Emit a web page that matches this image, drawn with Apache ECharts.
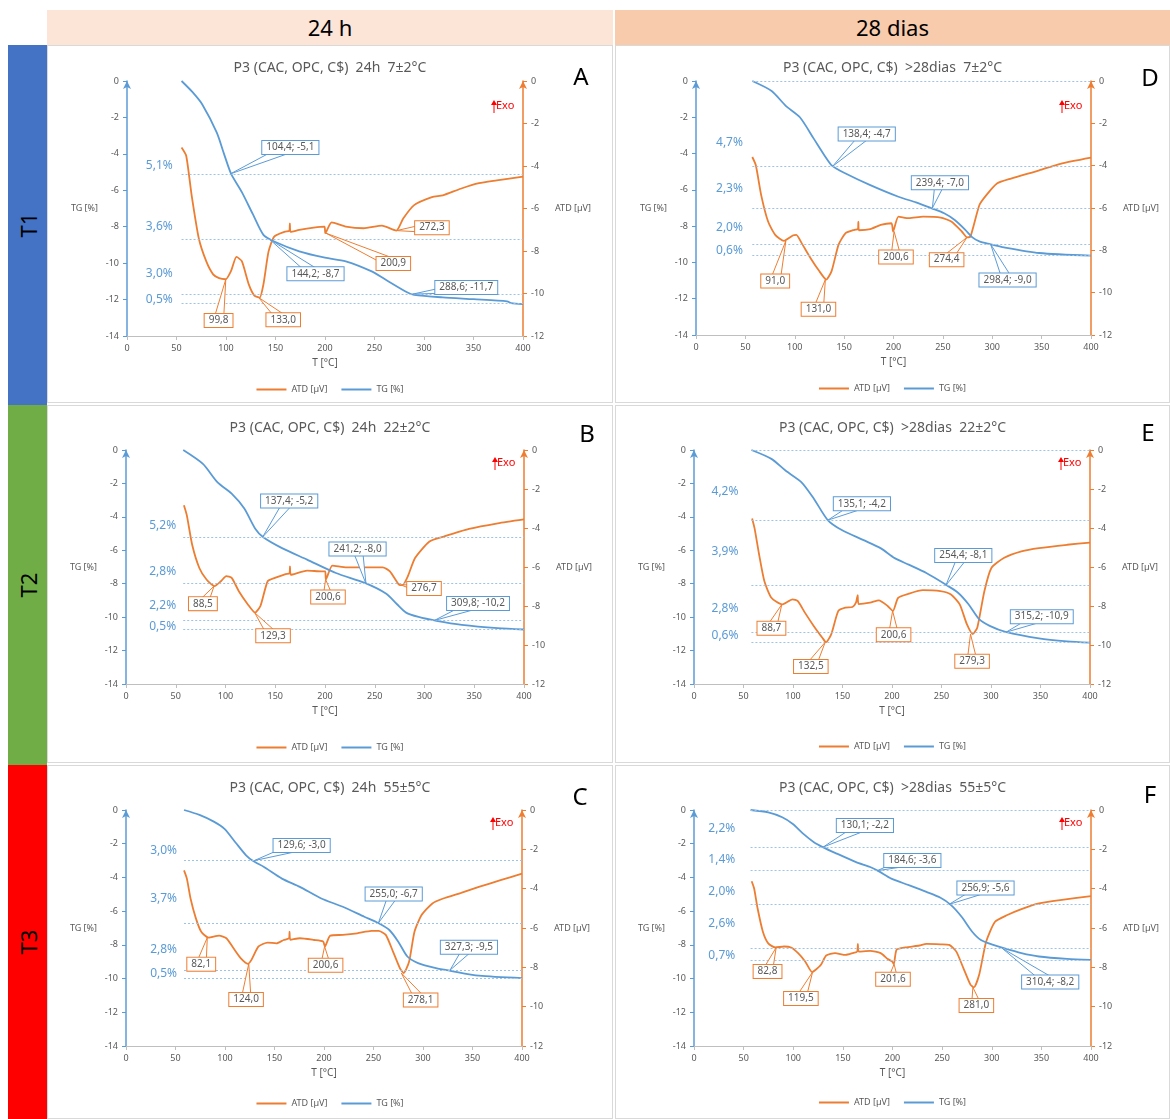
<!DOCTYPE html>
<html>
<head>
<meta charset="utf-8">
<script src="https://cdn.jsdelivr.net/npm/echarts@6/dist/echarts.min.js"></script>
<style>
  body { margin: 0; background: #fff; font-family: 'Noto Sans', sans-serif; }
  .hd { position: absolute; top: 10px; height: 35px; line-height: 35px; text-align: center; font-size: 22px; color: #000; }
  .side { position: absolute; left: 8px; width: 39px; }
  .side span { position: absolute; left: 50%; top: 50%; transform: translate(-50%, -50%) rotate(-90deg); font-size: 22px; color: #000; }
  .pn { position: absolute; box-sizing: border-box; border: 1px solid #d9d9d9; }
</style>
</head>
<body>
<div class="hd" style="left:47px;width:566px;background:#fce4d6;">24 h</div>
<div class="hd" style="left:615px;width:555px;background:#f8cbad;">28 dias</div>
<div class="side" style="top:45px;height:360px;background:#4472c4;"><span>T1</span></div>
<div class="side" style="top:405px;height:360px;background:#70ad47;"><span>T2</span></div>
<div class="side" style="top:765px;height:354px;background:#ff0000;"><span>T3</span></div>

<script>
// ---- A: 24h 7±2°C ----
const tgA = [[55.1,0],[66,-0.6],[76.2,-1.3],[90.7,-2.84],[98,-4.0],[105.2,-5.1],[116,-6.1],[127,-7.3],[137.8,-8.45],[148.7,-8.81],[174,-9.35],[200,-9.7],[221,-9.9],[246.6,-10.44],[261,-10.9],[282.9,-11.6],[290,-11.74],[319,-11.88],[350,-11.98],[384,-12.1],[388,-12.2],[400,-12.25]];
const atdA = [[55.1,-3.13],[59.8,-3.52],[65.3,-5.38],[72.5,-7.4],[80,-8.48],[87,-9.1],[93,-9.28],[99.7,-9.33],[105,-8.95],[110.6,-8.28],[116,-8.48],[123,-9.57],[128.7,-10.1],[134,-10.19],[137.8,-9.57],[143,-8.02],[148.7,-7.32],[159.6,-7.09],[164,-7.05],[164.5,-6.7],[165.3,-7.1],[174,-7.01],[188.6,-6.9],[199.5,-6.85],[200.3,-7.16],[206.7,-6.65],[221,-6.85],[239,-6.93],[257.5,-6.81],[272,-7.04],[279,-6.47],[290,-5.84],[308,-5.46],[319,-5.38],[337,-5.07],[355.5,-4.81],[373.5,-4.68],[400,-4.5]];
const tgPeaksA = [[104.4,-5.1],[144.2,-8.7],[288.6,-11.7]];
const atdPeaksA = [[99.8,-9.33],[133.0,-10.19],[200.9,-7.16],[272.3,-7.04]];
const levelsA = [-5.1,-8.7,-11.7,-12.2];
const pctA = ['5,1%','3,6%','3,0%','0,5%'];

// ---- B: 24h 22±2°C ----
const tgB = [[57.5,0],[77.3,-0.83],[91.8,-1.92],[106.2,-2.61],[118.9,-3.5],[129.7,-4.69],[138,-5.22],[156.8,-5.87],[182,-6.56],[211,-7.36],[240,-7.95],[261.6,-8.6],[272.4,-9.23],[281.5,-9.73],[294,-9.99],[312,-10.22],[337.5,-10.46],[373.6,-10.66],[400,-10.74]];
const atdB = [[58.2,-2.83],[61.1,-3.34],[66.5,-4.86],[73.7,-6.05],[80.9,-6.64],[88.9,-6.98],[95.4,-6.73],[100.8,-6.47],[106.2,-6.56],[113.4,-7.24],[122.5,-7.92],[129.7,-8.34],[135.1,-8.0],[142.4,-6.73],[149.6,-6.56],[160.4,-6.36],[164.3,-6.33],[164.8,-5.97],[165.6,-6.4],[182,-6.19],[196.6,-6.22],[200.2,-6.22],[200.9,-6.64],[207.4,-5.93],[221.8,-6.02],[240,-6.02],[258,-6.02],[265.2,-6.22],[274.3,-6.9],[277.9,-6.93],[283.3,-6.47],[290.5,-5.54],[305,-4.69],[319.4,-4.44],[344.7,-4.05],[373.6,-3.76],[400,-3.56]];
const tgPeaksB = [[137.4,-5.2],[241.2,-8.0],[309.8,-10.2]];
const atdPeaksB = [[88.5,-6.98],[129.3,-8.34],[200.6,-6.64],[276.7,-6.93]];
const levelsB = [-5.2,-8.0,-10.2,-10.7];
const pctB = ['5,2%','2,8%','2,2%','0,5%'];

// ---- C: 24h 55±5°C ----
const tgC = [[58.6,0],[74.2,-0.29],[88.7,-0.69],[99.5,-1.12],[110.4,-1.91],[121.3,-2.69],[128.5,-3.03],[139.4,-3.38],[157.5,-4.07],[175.6,-4.56],[197.3,-5.25],[219,-5.74],[240.7,-6.33],[255.2,-6.72],[266,-7.12],[275,-7.81],[284.2,-8.69],[295,-9.08],[313.1,-9.38],[327.6,-9.54],[356.6,-9.83],[400,-9.97]];
const atdC = [[58.6,-3.07],[61.5,-3.49],[65.2,-4.5],[70.6,-5.51],[76,-6.19],[83.3,-6.49],[94.1,-6.39],[101.4,-6.52],[108.6,-7.03],[115.8,-7.53],[123,-7.82],[126.7,-7.62],[133.9,-6.94],[143,-6.74],[152,-6.78],[159.3,-6.61],[164.7,-6.52],[165.2,-6.19],[166,-6.6],[175.6,-6.52],[190,-6.61],[199.1,-6.69],[200.9,-6.94],[206.3,-6.39],[219,-6.35],[233.5,-6.27],[248,-6.15],[255.2,-6.15],[262.4,-6.35],[269.7,-7.2],[276.9,-8.07],[280.5,-8.29],[286,-7.7],[291.4,-6.19],[298.6,-5.34],[309.5,-4.75],[320.4,-4.5],[338.5,-4.21],[356.4,-3.91],[378.3,-3.57],[400,-3.24]];
const tgPeaksC = [[129.6,-3.0],[255.0,-6.7],[327.3,-9.5]];
const atdPeaksC = [[82.1,-6.49],[124.0,-7.82],[200.6,-6.94],[278.1,-8.29]];
const levelsC = [-3.0,-6.7,-9.5,-10.0];
const pctC = ['3,0%','3,7%','2,8%','0,5%'];

// ---- D: >28dias 7±2°C ----
const tgD = [[57,0],[76.6,-0.55],[90.9,-1.37],[105.2,-2.0],[119.4,-3.19],[130.1,-4.1],[138,-4.68],[151.5,-5.1],[176.5,-5.74],[205,-6.38],[222.8,-6.69],[238.8,-7.02],[251.3,-7.29],[262,-7.66],[272.7,-8.2],[279.9,-8.62],[287,-8.84],[297.7,-8.99],[312,-9.17],[347.6,-9.48],[400,-9.63]];
const atdD = [[57,-3.59],[60.6,-3.98],[66,-5.39],[73,-6.64],[80.2,-7.27],[89.1,-7.55],[98,-7.3],[101.6,-7.27],[107,-7.66],[115.9,-8.36],[124.8,-8.98],[131.9,-9.38],[137.3,-8.98],[144.4,-7.73],[151.5,-7.19],[160.4,-7.03],[164,-7.0],[164.4,-6.64],[165,-7.05],[176.5,-7.0],[187,-6.8],[197.9,-6.72],[199.6,-7.11],[205,-6.41],[215.7,-6.48],[229.9,-6.41],[247.8,-6.45],[258.5,-6.64],[269.2,-7.11],[274.5,-7.39],[278,-7.34],[287,-5.86],[294,-5.39],[304.8,-4.84],[319,-4.61],[347.6,-4.22],[369,-3.91],[400,-3.62]];
const tgPeaksD = [[138.4,-4.7],[239.4,-7.0],[298.4,-9.0]];
const atdPeaksD = [[91.0,-7.55],[131.0,-9.38],[200.6,-7.11],[274.4,-7.39]];
const levelsD = [0,-4.7,-7.0,-9.0,-9.6];
const pctD = ['4,7%','2,3%','2,0%','0,6%'];

// ---- E: >28dias 22±2°C ----
const tgE = [[58,0],[78.2,-0.53],[92.4,-1.23],[108.4,-1.92],[120.9,-2.9],[135.1,-4.19],[149.3,-4.79],[170.7,-5.38],[188.4,-5.87],[202.7,-6.47],[216.9,-6.86],[234.7,-7.36],[254.2,-8.05],[266.7,-8.54],[277.3,-9.23],[288,-10.12],[298.7,-10.52],[314.7,-10.88],[348.4,-11.27],[376.9,-11.45],[400,-11.53]];
const atdE = [[58.7,-3.51],[61.2,-4.02],[65.8,-5.37],[71.1,-6.73],[78.2,-7.58],[88.9,-7.92],[99.6,-7.66],[104.9,-7.75],[112,-8.34],[120.9,-9.02],[129.8,-9.64],[133.3,-9.86],[138.7,-9.44],[145.8,-8.25],[152.9,-8.08],[160,-8.05],[163.6,-7.83],[165.3,-7.44],[166.3,-7.9],[177.8,-7.83],[186.7,-7.71],[195.6,-8.0],[200.9,-8.25],[206.2,-7.58],[216.9,-7.37],[231.1,-7.19],[248.9,-7.24],[259.6,-7.41],[268.4,-7.92],[275.6,-8.93],[281.6,-9.44],[286.2,-9.1],[293.3,-7.24],[300.4,-6.05],[312.9,-5.54],[330.7,-5.2],[348.4,-5.03],[376.9,-4.86],[400,-4.75]];
const tgPeaksE = [[135.1,-4.2],[254.4,-8.1],[315.2,-10.9]];
const atdPeaksE = [[88.7,-7.92],[132.5,-9.86],[200.6,-8.25],[279.3,-9.44]];
const levelsE = [0,-4.2,-8.1,-10.9,-11.5];
const pctE = ['4,2%','3,9%','2,8%','0,6%'];

// ---- F: >28dias 55±5°C ----
const tgF = [[57,0],[74.8,-0.14],[88.9,-0.43],[99.6,-0.83],[110.2,-1.42],[120.8,-1.91],[129.7,-2.2],[142.1,-2.54],[163.3,-3.09],[177.5,-3.38],[186.4,-3.64],[198.8,-4.07],[216.5,-4.46],[234.2,-4.86],[248.4,-5.21],[259,-5.64],[269.6,-6.33],[280.3,-7.22],[289.1,-7.71],[301.5,-8.0],[312.1,-8.2],[329.9,-8.49],[347.6,-8.69],[375.9,-8.83],[400,-8.89]];
const atdF = [[58.1,-3.62],[60.6,-3.99],[64.1,-5.01],[69.4,-6.19],[74.8,-6.78],[81.8,-6.99],[90.7,-6.94],[97.8,-6.99],[104.9,-7.28],[112,-7.7],[119,-8.24],[122.6,-8.12],[127.9,-7.87],[133.2,-7.4],[142.1,-7.28],[152.7,-7.37],[159.8,-7.28],[164.4,-7.2],[165.1,-6.81],[166,-7.2],[177.5,-7.16],[188.1,-7.28],[195.2,-7.58],[199.5,-7.7],[201.3,-7.84],[204.1,-7.11],[213,-6.99],[227.1,-6.89],[234.2,-6.81],[248.4,-6.83],[257.2,-6.86],[264.3,-7.2],[271.4,-8.04],[278.5,-8.88],[282,-9.02],[287.3,-8.38],[294.4,-6.69],[303.3,-5.68],[315.7,-5.34],[329.9,-5.04],[347.6,-4.75],[368.8,-4.58],[400,-4.38]];
const tgPeaksF = [[130.1,-2.2],[184.6,-3.6],[256.9,-5.6],[310.4,-8.2]];
const atdPeaksF = [[82.8,-6.99],[119.5,-8.24],[201.6,-7.84],[281.0,-9.02]];
const levelsF = [0,-2.2,-3.6,-5.6,-8.2,-8.9];
const pctF = ['2,2%','1,4%','2,0%','2,6%','0,7%'];

const BLUE = '#5b9bd5', ORANGE = '#ed7d31', GREY = '#595959';
const FONT = '"Noto Sans", sans-serif';

// layout of each panel: div box, grid [left,right,top,bottom], callout box spots (data coords)
const panels = [
  { letter: 'A', box: [47, 45, 566, 358], grid: [79, 89, 35, 66], legendTop: 334, exoDy: 25, letterXY: [533, 32],
    title: 'P3 (CAC, OPC, C$)  24h  7±2°C', tg: tgA, atd: atdA, tgPk: tgPeaksA, atdPk: atdPeaksA, levels: levelsA, pct: pctA,
    tgBox: [[165,-3.65],[190.4,-10.58],[342.7,-11.34]], atdBox: [[92.5,-11.27],[157.8,-11.24],[269,-8.59],[308,-6.9]],
    pctPos: [[32.6,-4.65],[32.6,-8.0],[32.6,-10.6],[32.6,-12.0]] },
  { letter: 'B', box: [47, 405, 566, 358], grid: [78, 88, 44, 78], legendTop: 332, exoDy: 13, letterXY: [539, 29],
    title: 'P3 (CAC, OPC, C$)  24h  22±2°C', tg: tgB, atd: atdB, tgPk: tgPeaksB, atdPk: atdPeaksB, levels: levelsB, pct: pctB,
    tgBox: [[164,-3.05],[232.7,-5.93],[353.8,-9.18]], atdBox: [[77.3,-7.88],[147.8,-9.53],[203,-7.54],[299.5,-7.1]],
    pctPos: [[36.9,-4.53],[36.9,-7.3],[36.9,-9.33],[36.9,-10.56]] },
  { letter: 'C', box: [47, 765, 566, 354], grid: [78, 90, 44, 72], legendTop: 328, exoDy: 13, letterXY: [532, 32],
    title: 'P3 (CAC, OPC, C$)  24h  55±5°C', tg: tgC, atd: atdC, tgPk: tgPeaksC, atdPk: atdPeaksC, levels: levelsC, pct: pctC,
    tgBox: [[177.4,-2.1],[270.4,-4.99],[346.4,-8.14]], atdBox: [[76,-7.84],[121.3,-9.64],[201.6,-7.9],[297.6,-9.66]],
    pctPos: [[38,-2.4],[38,-5.25],[38,-8.3],[38,-9.73]] },
  { letter: 'D', box: [615, 45, 555, 358], grid: [80, 78, 35, 67], legendTop: 333, exoDy: 25, letterXY: [534, 33],
    title: 'P3 (CAC, OPC, C$)  >28dias  7±2°C', tg: tgD, atd: atdD, tgPk: tgPeaksD, atdPk: atdPeaksD, levels: levelsD, pct: pctD,
    tgBox: [[172.9,-2.92],[247,-5.61],[315.5,-10.97]], atdBox: [[80.2,-9.45],[124,-10.78],[202.5,-8.31],[253.8,-8.44]],
    pctPos: [[33.9,-3.37],[33.9,-5.92],[33.9,-8.08],[33.9,-9.33]] },
  { letter: 'E', box: [615, 405, 555, 358], grid: [78, 79, 44, 78], legendTop: 331, exoDy: 13, letterXY: [532, 28],
    title: 'P3 (CAC, OPC, C$)  >28dias  22±2°C', tg: tgE, atd: atdE, tgPk: tgPeaksE, atdPk: atdPeaksE, levels: levelsE, pct: pctE,
    tgBox: [[169.6,-3.22],[272,-6.31],[351.3,-9.97]], atdBox: [[78.2,-9.14],[118,-11.1],[201.6,-9.47],[280.9,-10.83]],
    pctPos: [[31.3,-2.51],[31.3,-6.07],[31.3,-9.47],[31.3,-11.1]] },
  { letter: 'F', box: [615, 765, 555, 354], grid: [78, 78, 44, 72], legendTop: 327, exoDy: 13, letterXY: [534, 30],
    title: 'P3 (CAC, OPC, C$)  >28dias  55±5°C', tg: tgF, atd: atdF, tgPk: tgPeaksF, atdPk: atdPeaksF, levels: levelsF, pct: pctF,
    tgBox: [[172.2,-0.92],[220,-2.99],[293.7,-4.62],[358.9,-10.2]], atdBox: [[74.1,-8.21],[107.7,-9.59],[200.5,-8.6],[284.5,-9.94]],
    pctPos: [[28,-1.12],[28,-2.95],[28,-4.82],[28,-6.72],[28,-8.65]] }
];

function dec(v) { return v.toFixed(1).replace('.', ','); }

// wedge callout: tip on the curve, box at a data position
function calloutSeries(peaks, boxes, yIdx, color, fmt) {
  return {
    type: 'custom', yAxisIndex: yIdx, silent: true, z: 10, clip: false,
    data: peaks.map((p, i) => [p[0], p[1], boxes[i][0], boxes[i][1]]),
    encode: { x: [0, 2], y: [1, 3] },
    renderItem: function (params, api) {
      const tip = api.coord([api.value(0), api.value(1)]);
      const bx = api.coord([api.value(2), api.value(3)]);
      const dx = bx[0] - tip[0], dy = bx[1] - tip[1];
      const len = Math.sqrt(dx * dx + dy * dy) || 1;
      const nx = -dy / len * 5, ny = dx / len * 5;
      return {
        type: 'group',
        children: [
          { type: 'polygon', shape: { points: [tip, [bx[0] + nx, bx[1] + ny], [bx[0] - nx, bx[1] - ny]] },
            style: { fill: '#fff', stroke: color, lineWidth: 1 } },
          { type: 'text', x: bx[0], y: bx[1],
            style: { text: fmt(api.value(0), api.value(1)), align: 'center', verticalAlign: 'middle',
              fill: GREY, font: '10px ' + FONT, backgroundColor: '#fff', borderColor: color,
              borderWidth: 1, padding: [2, 4, 1, 4] } }
        ]
      };
    }
  };
}

function pctSeries(texts, pos) {
  return {
    type: 'custom', yAxisIndex: 0, silent: true, clip: false, z: 5,
    data: pos,
    renderItem: function (params, api) {
      const pt = api.coord([api.value(0), api.value(1)]);
      return { type: 'text', x: pt[0], y: pt[1],
        style: { text: texts[params.dataIndex], align: 'center', verticalAlign: 'middle', fill: BLUE, font: '12px ' + FONT } };
    }
  };
}

panels.forEach(function (p) {
  const div = document.createElement('div');
  div.className = 'pn';
  div.style.left = p.box[0] + 'px';
  div.style.top = p.box[1] + 'px';
  div.style.width = p.box[2] + 'px';
  div.style.height = p.box[3] + 'px';
  document.body.appendChild(div);
  const chart = echarts.init(div);
  const w = p.box[2];
  const axisRight = w - p.grid[1];
  const exoX = axisRight - 31, exoY = p.grid[2] + p.exoDy;
  const startT = p.tg[0][0];

  const option = {
    animation: false,
    textStyle: { fontFamily: FONT },
    title: { text: p.title, left: 'center', top: 10, textStyle: { color: GREY, fontSize: 14, fontWeight: 'normal' } },
    legend: { data: ['ATD [µV]', 'TG [%]'], top: p.legendTop, left: 'center', icon: 'rect', itemWidth: 30, itemHeight: 2,
      itemGap: 14, textStyle: { color: GREY, fontSize: 9 } },
    grid: { left: p.grid[0], right: p.grid[1], top: p.grid[2], bottom: p.grid[3] },
    xAxis: { type: 'value', min: 0, max: 400, interval: 50, name: 'T [°C]', nameLocation: 'middle', nameGap: 20,
      nameTextStyle: { color: GREY, fontSize: 10 },
      axisLine: { onZero: false, lineStyle: { color: '#bfbfbf' } },
      axisTick: { show: true, length: 4, lineStyle: { color: '#bfbfbf' } },
      axisLabel: { color: GREY, fontSize: 9, margin: 8 }, splitLine: { show: false } },
    yAxis: [
      { type: 'value', min: -14, max: 0, interval: 2, position: 'left', name: 'TG [%]', nameLocation: 'middle',
        nameRotate: 0, nameGap: 29, nameTextStyle: { color: GREY, fontSize: 9 },
        axisLine: { show: true, onZero: false, symbol: ['none', 'arrow'], symbolSize: [6, 8], lineStyle: { color: BLUE, width: 1.5 } },
        axisTick: { show: true, length: 4, lineStyle: { color: BLUE } },
        axisLabel: { color: GREY, fontSize: 9, margin: 8 }, splitLine: { show: false } },
      { type: 'value', min: -12, max: 0, interval: 2, position: 'right', name: 'ATD [µV]', nameLocation: 'middle',
        nameRotate: 0, nameGap: 32, nameTextStyle: { color: GREY, fontSize: 9 },
        axisLine: { show: true, onZero: false, symbol: ['none', 'arrow'], symbolSize: [6, 8], lineStyle: { color: ORANGE, width: 1.5 } },
        axisTick: { show: true, length: 4, lineStyle: { color: ORANGE } },
        axisLabel: { color: GREY, fontSize: 9, margin: 8 }, splitLine: { show: false } }
    ],
    graphic: [
      { type: 'text', x: p.letterXY[0], y: p.letterXY[1],
        style: { text: p.letter, align: 'center', verticalAlign: 'middle', fill: '#000', font: '24px ' + FONT } },
      { type: 'group', children: [
        { type: 'line', shape: { x1: exoX, y1: exoY + 7, x2: exoX, y2: exoY - 2 }, style: { stroke: '#ff0000', lineWidth: 1 } },
        { type: 'polygon', shape: { points: [[exoX - 3, exoY - 1], [exoX + 3, exoY - 1], [exoX, exoY - 6]] }, style: { fill: '#ff0000' } },
        { type: 'text', x: exoX + 2, y: exoY, style: { text: 'Exo', align: 'left', verticalAlign: 'middle', fill: '#ff0000', font: '11px ' + FONT } }
      ] }
    ],
    series: [
      { name: 'ATD [µV]', type: 'line', yAxisIndex: 1, data: p.atd, symbol: 'none', showSymbol: false,
        smooth: 0.2,
        lineStyle: { color: ORANGE, width: 1.8 }, itemStyle: { color: ORANGE }, z: 3 },
      { name: 'TG [%]', type: 'line', yAxisIndex: 0, data: p.tg, symbol: 'none', showSymbol: false,
        smooth: 0.25,
        lineStyle: { color: BLUE, width: 1.8 }, itemStyle: { color: BLUE }, z: 3,
        markLine: { silent: true, symbol: 'none', label: { show: false },
          lineStyle: { type: [2, 2], color: '#9dc3e6', width: 1 },
          data: p.levels.map(v => [{ coord: [startT, v] }, { coord: [400, v] }]) } },
      pctSeries(p.pct, p.pctPos),
      calloutSeries(p.tgPk, p.tgBox, 0, BLUE, (t, v) => dec(t) + '; ' + dec(v)),
      calloutSeries(p.atdPk, p.atdBox, 1, ORANGE, (t) => dec(t))
    ]
  };
  chart.setOption(option);
});
</script>
</body>
</html>
